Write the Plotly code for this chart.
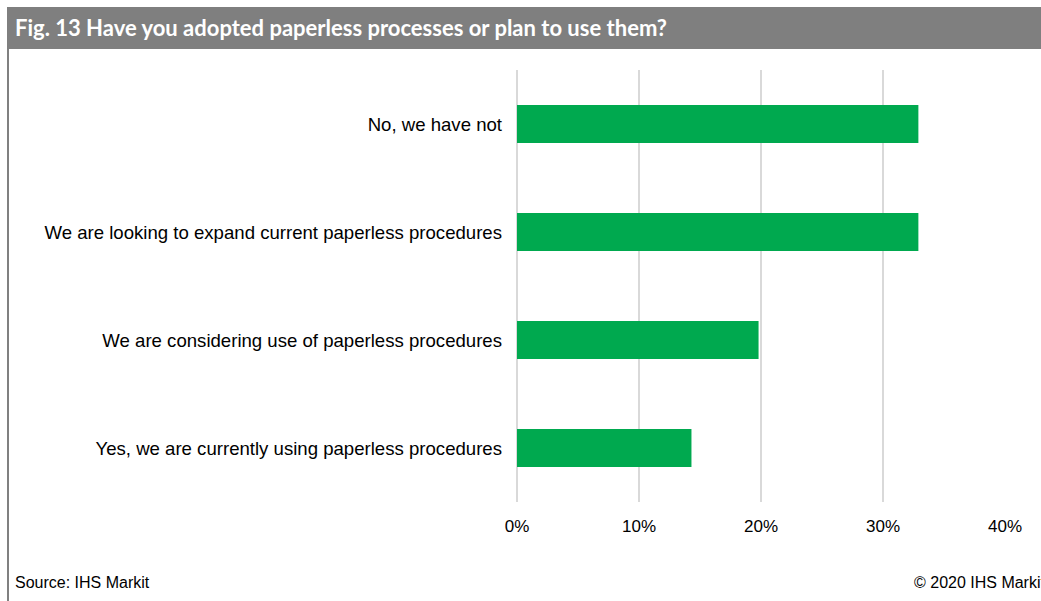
import plotly.graph_objects as go

# Survey answers, top to bottom, and share of respondents (%)
categories = [
    "No, we have not",
    "We are looking to expand current paperless procedures",
    "We are considering use of paperless procedures",
    "Yes, we are currently using paperless procedures",
]
shares = [32.9, 32.9, 19.8, 14.3]
x_ticks = [0, 10, 20, 30, 40]
x_tick_labels = ["0%", "10%", "20%", "30%", "40%"]

title_text = "Fig. 13 Have you adopted paperless processes or plan to use them?"
source_text = "Source: IHS Markit"
copyright_text = "© 2020 IHS Markit"

W, H = 1041, 601
ML, MR, MT, MB = 517, 36, 70, 99
PW, PH = W - ML - MR, H - MT - MB


def px(x):
    return (x - ML) / PW


def py(y):
    return (H - MB - y) / PH


BASE_FONT = "Arial, Liberation Sans, sans-serif"
TITLE_FONT = "Lato, Roboto, sans-serif"

fig = go.Figure(
    go.Bar(
        x=shares,
        y=categories,
        orientation="h",
        marker=dict(color="#00a94f", line=dict(width=0)),
        hoverinfo="x+y",
    )
)

fig.update_layout(
    width=W,
    height=H,
    margin=dict(l=ML, r=MR, t=MT, b=MB, pad=0),
    paper_bgcolor="white",
    plot_bgcolor="white",
    bargap=0.65,
    showlegend=False,
    font=dict(family=BASE_FONT, size=17, color="#000000"),
    xaxis=dict(
        range=[0, 40],
        tickmode="array",
        tickvals=x_ticks,
        ticktext=x_tick_labels,
        showgrid=True,
        gridcolor="#d9d9d9",
        gridwidth=2,
        zeroline=True,
        zerolinecolor="#d9d9d9",
        zerolinewidth=2,
        showline=False,
        ticks="",
        ticklabelstandoff=12,
        tickfont=dict(family=BASE_FONT, size=17, color="#000000"),
        fixedrange=True,
    ),
    yaxis=dict(
        autorange="reversed",
        showgrid=False,
        zeroline=False,
        showline=False,
        ticks="",
        ticklabelstandoff=14,
        tickfont=dict(family=BASE_FONT, size=18.6, color="#000000"),
        fixedrange=True,
    ),
    shapes=[
        # grey header band
        dict(
            type="rect", xref="paper", yref="paper",
            x0=px(7), x1=px(W + 10), y0=py(49), y1=py(7),
            fillcolor="#7f7f7f", line=dict(width=0), layer="below",
        ),
        # left frame rule
        dict(
            type="line", xref="paper", yref="paper",
            x0=px(8), x1=px(8), y0=py(49), y1=py(H + 5),
            line=dict(color="#808080", width=2),
        ),
    ],
    annotations=[
        dict(
            text="<b>" + title_text + "</b>",
            xref="paper", yref="paper", x=px(13), y=py(28),
            xanchor="left", yanchor="middle", showarrow=False,
            font=dict(family=TITLE_FONT, size=22, color="white"),
        ),
        dict(
            text=source_text,
            xref="paper", yref="paper", x=px(13), y=py(582),
            xanchor="left", yanchor="middle", showarrow=False,
            font=dict(family=BASE_FONT, size=16, color="#000000"),
        ),
        dict(
            text=copyright_text,
            xref="paper", yref="paper", x=px(912), y=py(582),
            xanchor="left", yanchor="middle", showarrow=False,
            font=dict(family=BASE_FONT, size=16, color="#000000"),
        ),
    ],
)

fig.write_html("out.html", config={"displayModeBar": False})
